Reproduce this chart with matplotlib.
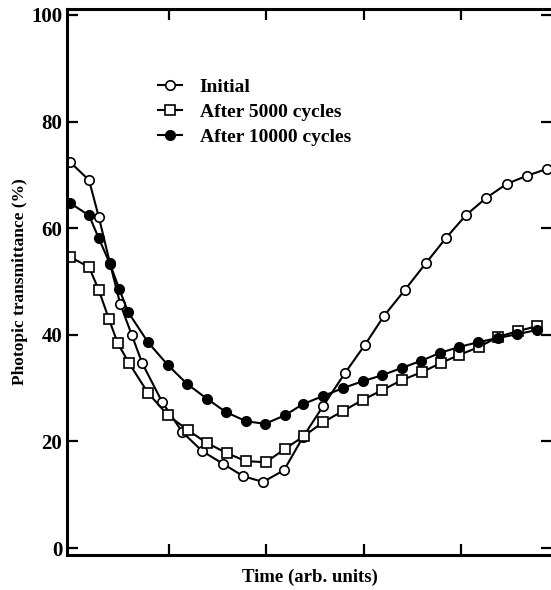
import matplotlib
matplotlib.use("Agg")
import matplotlib.pyplot as plt

# time in arbitrary units, transmittance in %
t_initial = [0, 3.9, 5.9, 8.2, 10.3, 12.7, 14.8, 18.9, 23.0, 27.1, 31.4, 35.5, 39.6,
             43.9, 47.8, 51.9, 56.4, 60.5, 64.4, 68.7, 73.0, 77.1, 81.2, 85.3, 89.6, 93.7, 97.8]
initial = [72.4, 69.0, 62.1, 53.4, 45.8, 39.9, 34.7, 27.4, 21.8, 18.2, 15.8, 13.5, 12.4,
           14.6, 20.8, 26.6, 32.8, 38.1, 43.5, 48.4, 53.4, 58.1, 62.4, 65.6, 68.3, 69.8, 71.1]

t_5000 = [0, 3.9, 5.9, 8.0, 9.8, 12.1, 16.0, 20.1, 24.2, 28.1, 32.2, 36.1, 40.2,
          44.1, 48.0, 51.9, 56.0, 60.1, 64.0, 68.1, 72.2, 76.1, 79.8, 83.9, 87.8, 91.9, 95.8]
after_5000 = [54.6, 52.7, 48.4, 42.9, 38.4, 34.7, 29.1, 24.9, 22.1, 19.7, 17.8, 16.3, 16.1,
              18.6, 21.0, 23.6, 25.7, 27.8, 29.6, 31.5, 33.0, 34.7, 36.2, 37.7, 39.6, 40.7, 41.6]

t_10000 = [0, 3.9, 5.9, 8.2, 10.1, 11.9, 16.0, 20.1, 24.0, 28.1, 32.0, 36.1, 40.0,
           44.1, 47.8, 51.9, 56.0, 60.1, 64.0, 68.1, 72.0, 75.9, 79.8, 83.7, 87.8, 91.7, 95.8]
after_10000 = [64.7, 62.4, 58.1, 53.3, 48.6, 44.3, 38.6, 34.3, 30.8, 28.0, 25.5, 23.8, 23.3,
               24.9, 27.0, 28.5, 30.0, 31.3, 32.4, 33.8, 35.1, 36.6, 37.7, 38.6, 39.4, 40.1, 40.9]

x_ticks = [20.3, 40.2, 60.3, 80.2]
y_ticks = [0, 20, 40, 60, 80, 100]

plt.rcParams['font.family'] = ['Liberation Serif', 'DejaVu Serif']
plt.rcParams['font.weight'] = 'bold'

fig = plt.figure(figsize=(5.51, 5.90), dpi=100)
ax = fig.add_axes([67 / 551, 35 / 590, 485 / 551, 546 / 590])

style = dict(color='black', lw=1.5, ms=6.8, mew=1.2)
ax.plot(t_initial, initial, marker='o', mfc='white', mec='black', label='Initial', **style)
ax.plot(t_5000, after_5000, marker='s', mfc='white', mec='black', label='After 5000 cycles', **style)
ax.plot(t_10000, after_10000, marker='o', mfc='black', mec='black', label='After 10000 cycles', **style)

ax.set_xlim(-0.62, 98.9)
ax.set_ylim(-1.3, 101.1)
ax.set_xticks(x_ticks)
ax.set_yticks(y_ticks)
ax.set_xticklabels([])
ax.tick_params(direction='in', length=8, width=1.6, top=True, right=True, labelsize=15)
for lab in ax.get_yticklabels():
    lab.set_fontweight('bold')
for sp in ax.spines.values():
    sp.set_linewidth(2.2)

ax.set_xlabel('Time (arb. units)', fontsize=13.5, fontweight='bold', labelpad=6)
ax.set_ylabel('Photopic transmittance (%)', fontsize=12.5, fontweight='bold', labelpad=2)

ax.legend(loc='upper left', bbox_to_anchor=(0.171, 0.888), frameon=False,
          handlelength=1.25, handletextpad=0.9, labelspacing=0.38,
          borderaxespad=0, prop={'weight': 'bold', 'size': 14})

fig.savefig('out.png', dpi=100)
